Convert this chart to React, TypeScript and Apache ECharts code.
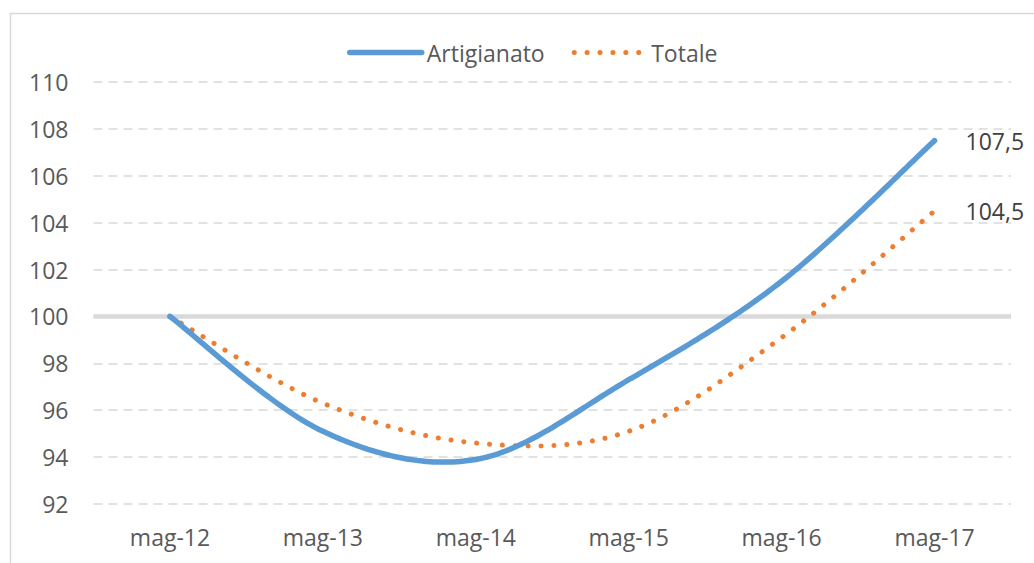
import React, { useEffect, useRef } from "react";
import * as echarts from "echarts";

const categories = ["mag-12", "mag-13", "mag-14", "mag-15", "mag-16", "mag-17"];
const artigianato = [100, 95.1, 93.9, 97.3, 101.5, 107.5];
const totale = [100, 96.3, 94.6, 95.1, 99.1, 104.5];
const seriesNames = ["Artigianato", "Totale"];
const yMin = 92;
const yMax = 110;
const yInterval = 2;
const baseline = 100;

const FONT = "'Open Sans', 'Noto Sans', sans-serif";
const FS = 23;
const BLUE = "#5b9bd5";
const ORANGE = "#ed7d31";
const TEXT = "#595959";

const endLabel = {
  show: true,
  distance: 31,
  formatter: (p: any) => String(p.value).replace(".", ","),
  color: "#404040",
  fontSize: FS,
  fontFamily: FONT,
  opacity: 1,
};

// Smooth curve (Catmull-Rom / Bezier, like a spreadsheet's smoothed line)
// drawn through the data points, positioned by the chart's own scales.
function smoothCurveSeries(values: number[], style: any, z: number) {
  return {
    type: "custom",
    z,
    silent: true,
    data: values.map((v, i) => [i, v]),
    encode: { x: 0, y: 1 },
    renderItem: (params: any, api: any) => {
      if (params.dataIndexInside !== 0) return null;
      const n = params.dataInsideLength;
      const pts: number[][] = [];
      for (let j = 0; j < n; j++) {
        pts.push(api.coord([api.value(0, j), api.value(1, j)]));
      }
      const out: number[][] = [];
      const SEG = 40;
      for (let j = 0; j < n - 1; j++) {
        const p0 = pts[Math.max(j - 1, 0)];
        const p1 = pts[j];
        const p2 = pts[j + 1];
        const p3 = pts[Math.min(j + 2, n - 1)];
        const c1 = [p1[0] + (p2[0] - p0[0]) / 6, p1[1] + (p2[1] - p0[1]) / 6];
        const c2 = [p2[0] - (p3[0] - p1[0]) / 6, p2[1] - (p3[1] - p1[1]) / 6];
        for (let s = 0; s < SEG; s++) {
          const t = s / SEG;
          const u = 1 - t;
          const b0 = u * u * u;
          const b1 = 3 * u * u * t;
          const b2 = 3 * u * t * t;
          const b3 = t * t * t;
          out.push([
            b0 * p1[0] + b1 * c1[0] + b2 * c2[0] + b3 * p2[0],
            b0 * p1[1] + b1 * c1[1] + b2 * c2[1] + b3 * p2[1],
          ]);
        }
      }
      out.push(pts[n - 1]);
      return {
        type: "polyline",
        shape: { points: out },
        style: { fill: null, ...style },
      };
    },
  };
}

export default function App() {
  const ref = useRef<HTMLDivElement>(null);
  useEffect(() => {
    if (!ref.current) return;
    const chart = echarts.init(ref.current, undefined, { renderer: "svg" });
    chart.setOption({
      animation: false,
      backgroundColor: "#ffffff",
      textStyle: { fontFamily: FONT },
      graphic: [
        {
          type: "rect",
          shape: { x: 10.5, y: 13.5, width: 1100, height: 600 },
          style: { fill: "none", stroke: "#d9d9d9", lineWidth: 1.5 },
          silent: true,
        },
      ],
      legend: {
        left: 342,
        top: 36,
        itemWidth: 72,
        itemHeight: 22,
        itemGap: 27,
        textStyle: { color: TEXT, fontSize: FS, fontFamily: FONT },
        data: [
          {
            name: seriesNames[0],
            itemStyle: { opacity: 0 },
            lineStyle: { width: 5.5, opacity: 1 },
          },
          {
            name: seriesNames[1],
            itemStyle: { opacity: 0 },
            lineStyle: { width: 5, opacity: 1 },
          },
        ],
      },
      grid: { left: 93.5, right: 23, top: 82, bottom: 59, containLabel: false },
      xAxis: {
        type: "category",
        data: categories,
        boundaryGap: true,
        axisLine: { show: false },
        axisTick: { show: false },
        axisLabel: { color: TEXT, fontSize: FS, fontFamily: FONT, margin: 21 },
        splitLine: { show: false },
      },
      yAxis: {
        type: "value",
        min: yMin,
        max: yMax,
        interval: yInterval,
        axisLine: { show: false },
        axisTick: { show: false },
        axisLabel: { color: TEXT, fontSize: FS, fontFamily: FONT, margin: 25 },
        splitLine: {
          show: true,
          lineStyle: { color: "#d9d9d9", width: 1.5, type: [9, 6] },
        },
      },
      series: [
        {
          type: "line",
          data: [],
          silent: true,
          z: 1,
          markLine: {
            silent: true,
            symbol: "none",
            z: 1,
            label: { show: false },
            lineStyle: { color: "#d9d9d9", width: 4.5, type: "solid" },
            data: [{ yAxis: baseline }],
          },
        },
        {
          name: seriesNames[0],
          type: "line",
          data: artigianato,
          symbol: "none",
          showSymbol: false,
          silent: true,
          z: 3,
          lineStyle: { color: BLUE, width: 5.5, cap: "round", opacity: 0 },
          itemStyle: { color: BLUE },
          endLabel,
        },
        {
          name: seriesNames[1],
          type: "line",
          data: totale,
          symbol: "none",
          showSymbol: false,
          silent: true,
          z: 3,
          lineStyle: {
            color: ORANGE,
            width: 5,
            type: [0.1, 12.8],
            cap: "round",
            opacity: 0,
          },
          itemStyle: { color: ORANGE },
          endLabel,
        },
        smoothCurveSeries(
          totale,
          { stroke: ORANGE, lineWidth: 5, lineDash: [0.1, 12.8], lineCap: "round" },
          9
        ),
        smoothCurveSeries(
          artigianato,
          { stroke: BLUE, lineWidth: 5.5, lineCap: "round", lineJoin: "round" },
          10
        ),
      ],
    });
    return () => chart.dispose();
  }, []);
  return (
    <div
      ref={ref}
      style={{ position: "absolute", left: 0, top: 0, width: 1034, height: 563 }}
    />
  );
}
